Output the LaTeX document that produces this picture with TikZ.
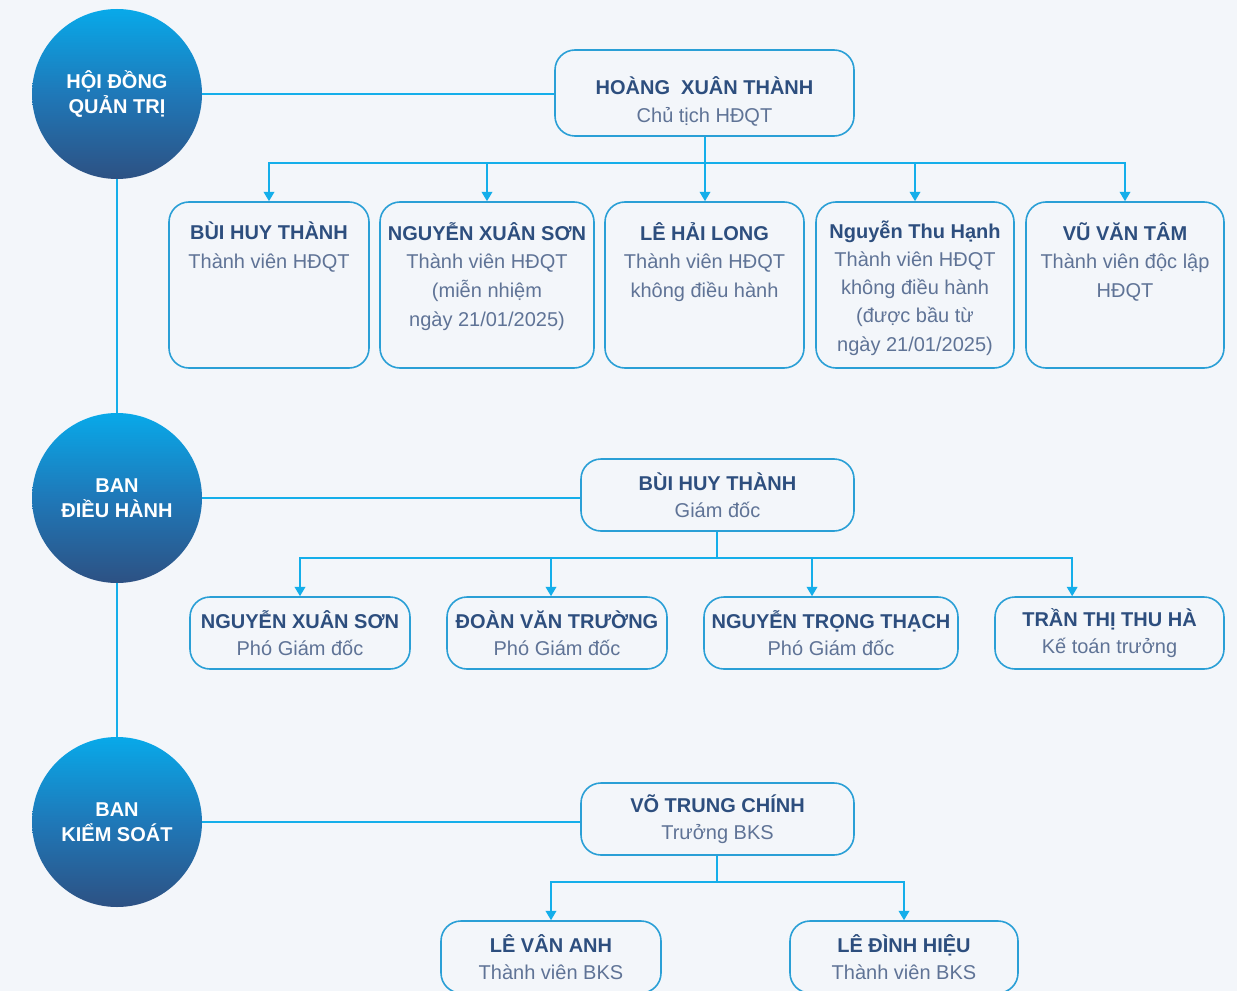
\documentclass[tikz,border=0pt]{standalone}
\usepackage{fontspec}
\setmainfont{Liberation Sans}
\usetikzlibrary{arrows.meta, positioning}
\definecolor{pageBg}{RGB}{243,246,250}
\definecolor{lineCyan}{RGB}{20,174,234}
\definecolor{boxBorder}{RGB}{42,159,214}
\definecolor{nameBlue}{RGB}{45,78,126}
\definecolor{roleGray}{RGB}{95,115,150}
\definecolor{circTop}{RGB}{8,169,233}
\definecolor{circMid}{RGB}{31,120,184}
\definecolor{circBot}{RGB}{45,81,131}
\newcommand{\who}[1]{{\bfseries\color{nameBlue}#1}}

\begin{document}
\begin{tikzpicture}[x=0.75pt, y=-0.75pt,
    board/.style={circle, minimum size=127.5pt, inner sep=0pt, align=center, text=white,
        font=\bfseries\fontsize{15}{19}\selectfont,
        top color=circTop, bottom color=circBot, middle color=circMid},
    card/.style={draw=boxBorder, line width=1.2pt, rounded corners=15pt, fill=pageBg,
        align=center, text=roleGray, font=\fontsize{15}{20}\selectfont, inner sep=0pt},
    cardtext/.style={anchor=north, align=center, text=roleGray,
        font=\fontsize{15}{21.5}\selectfont, inner sep=0pt},
    link/.style={draw=lineCyan, line width=1.1pt},
    arr/.style={link, -{Triangle[length=7pt, width=8pt]}}]
    \useasboundingbox (0,0) rectangle (1237,991);
    \clip (0,0) rectangle (1237,991);
    \fill[pageBg] (0,0) rectangle (1237,991);

    % Circles
    \node[board] (hdqt) at (117,94) {HỘI ĐỒNG\\QUẢN TRỊ};
    \node[board] (bdh) at (117,498) {BAN\\ĐIỀU HÀNH};
    \node[board] (bks) at (117,822) {BAN\\KIỂM SOÁT};
    \draw[link] (hdqt) -- (bdh);
    \draw[link] (bdh) -- (bks);

    % Board of directors
    \node[card, minimum width=224.25pt, minimum height=64.5pt] (chair) at (704.5,93) {};
    \node[cardtext, font=\fontsize{15}{21}\selectfont] (chairt) at ([yshift=-20pt]chair.north)
        {\who{HOÀNG\ \ XUÂN THÀNH}\\Chủ tịch HĐQT};
    \node[card, minimum width=150pt, minimum height=124.5pt] (m1) at (269,285) {};
    \node[card, minimum width=160.5pt, minimum height=124.5pt] (m2) at (487,285) {};
    \node[card, minimum width=149.25pt, minimum height=124.5pt] (m3) at (704.5,285) {};
    \node[card, minimum width=148.5pt, minimum height=124.5pt] (m4) at (915,285) {};
    \node[card, minimum width=148.5pt, minimum height=124.5pt] (m5) at (1125,285) {};
    \node[cardtext] (m1t) at ([yshift=-15.5pt]m1.north) {\who{BÙI HUY THÀNH}\\Thành viên HĐQT};
    \node[cardtext] (m2t) at ([yshift=-15.5pt]m2.north) {\who{NGUYỄN XUÂN SƠN}\\Thành viên HĐQT\\(miễn nhiệm\\ngày 21/01/2025)};
    \node[cardtext] (m3t) at ([yshift=-15.5pt]m3.north) {\who{LÊ HẢI LONG}\\Thành viên HĐQT\\không điều hành};
    \node[cardtext, font=\fontsize{15}{21.2}\selectfont] (m4t) at ([yshift=-14.2pt]m4.north) {\who{Nguyễn Thu Hạnh}\\Thành viên HĐQT\\không điều hành\\(được bầu từ\\ngày 21/01/2025)};
    \node[cardtext] (m5t) at ([yshift=-15.5pt]m5.north) {\who{VŨ VĂN TÂM}\\Thành viên độc lập\\HĐQT};
    \coordinate (hub1) at (705,163);
    \draw[link] (hdqt) -- (hdqt -| chair.west);
    \draw[link] (chair.south -| hub1) -- (hub1);
    \draw[arr] (hub1) -| (m1);
    \draw[arr] (hub1) -| (m2);
    \draw[arr] (hub1) -- (hub1 |- m3.north);
    \draw[arr] (hub1) -| (m4);
    \draw[arr] (hub1) -| (m5);

    % Executive board
    \node[card, minimum width=204.75pt, minimum height=54pt] (dir) at (717.5,495)
        {\who{BÙI HUY THÀNH}\\Giám đốc};
    \node[card, minimum width=165pt, minimum height=54pt] (d1) at (300,633) {\who{NGUYỄN XUÂN SƠN}\\Phó Giám đốc};
    \node[card, minimum width=165pt, minimum height=54pt] (d2) at (557,633) {\who{ĐOÀN VĂN TRƯỜNG}\\Phó Giám đốc};
    \node[card, minimum width=190.5pt, minimum height=54pt] (d3) at (831,633) {\who{NGUYỄN TRỌNG THẠCH}\\Phó Giám đốc};
    \node[card, minimum width=171.75pt, minimum height=54pt] (d4) at (1109.5,633) {\who{TRẦN THỊ THU HÀ}\\Kế toán trưởng};
    \coordinate (hub2) at (717,558);
    \draw[link] (bdh) -- (bdh -| dir.west);
    \draw[link] (dir.south -| hub2) -- (hub2);
    \draw[arr] (hub2) -| (d1);
    \draw[arr] (hub2) -| ([xshift=-4.5pt]d2.north);
    \draw[arr] (hub2) -| ([xshift=-14.25pt]d3.north);
    \draw[arr] (hub2) -| ([xshift=-28pt]d4.north);

    % Supervisory board
    \node[card, minimum width=204.75pt, minimum height=54pt] (sup) at (717.5,819)
        {\who{VÕ TRUNG CHÍNH}\\Trưởng BKS};
    \node[card, minimum width=165pt, minimum height=54pt] (s1) at (551,957) {\who{LÊ VÂN ANH}\\Thành viên BKS};
    \node[card, minimum width=171pt, minimum height=54pt] (s2) at (904,957) {\who{LÊ ĐÌNH HIỆU}\\Thành viên BKS};
    \coordinate (hub3) at (717,882);
    \draw[link] (bks) -- (bks -| sup.west);
    \draw[link] (sup.south -| hub3) -- (hub3);
    \draw[arr] (hub3) -| (s1);
    \draw[arr] (hub3) -| (s2);
\end{tikzpicture}
\end{document}
